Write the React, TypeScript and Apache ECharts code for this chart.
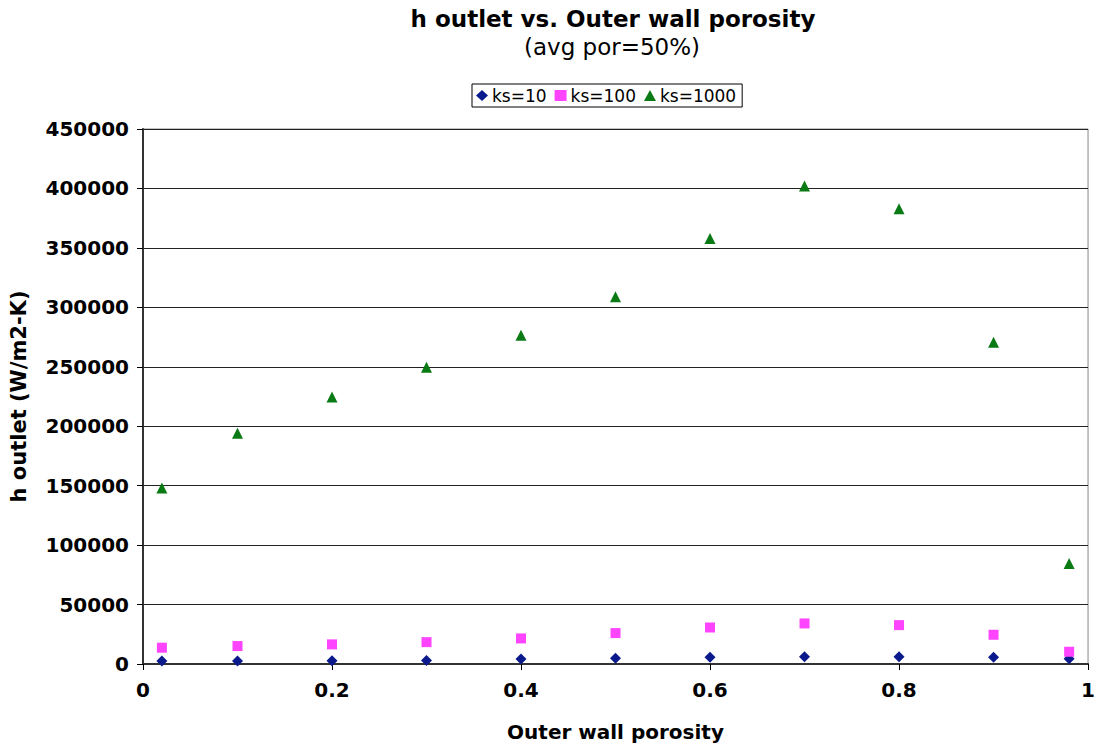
import React, { useEffect, useRef } from "react";
import * as echarts from "echarts";

const porosity = [0.02, 0.1, 0.2, 0.3, 0.4, 0.5, 0.6, 0.7, 0.8, 0.9, 0.98];
const ks10 = [2500, 2500, 2800, 3000, 4200, 4800, 5600, 6000, 6000, 5600, 4500];
const ks100 = [13700, 15100, 16500, 18400, 21500, 26000, 30700, 34100, 32700, 24600, 10300];
const ks1000 = [148000, 194000, 224500, 249700, 276500, 309000, 357800, 402000, 383000, 270600, 84600];

const seriesNames = ["ks=10", "ks=100", "ks=1000"];
const seriesColors = ["#0a1a8c", "#ff44ff", "#0a7a14"];
const seriesSymbols = ["diamond", "rect", "triangle"];
const seriesSizes = [11, 10, 11];

const FONT = "DejaVu Sans, Verdana, sans-serif";

export default function App() {
  const ref = useRef<HTMLDivElement>(null);
  useEffect(() => {
    if (!ref.current) return;
    const chart = echarts.init(ref.current, undefined, { renderer: "svg" });
    const datasets = [ks10, ks100, ks1000];
    chart.setOption({
      animation: false,
      backgroundColor: "#ffffff",
      textStyle: { fontFamily: FONT },
      graphic: [
        {
          type: "text",
          x: 613,
          y: 7,
          style: {
            text: "h outlet vs. Outer wall porosity",
            fontFamily: FONT,
            fontWeight: "bold",
            fontSize: 23,
            fill: "#000",
            textAlign: "center",
          },
        },
        {
          type: "text",
          x: 612,
          y: 35,
          style: {
            text: "(avg por=50%)",
            fontFamily: FONT,
            fontSize: 23,
            fill: "#000",
            textAlign: "center",
          },
        },
      ],
      legend: {
        data: seriesNames,
        left: 472,
        top: 84,
        orient: "horizontal",
        borderColor: "#000",
        borderWidth: 1,
        borderRadius: 0,
        padding: [3, 6, 3, 4],
        itemWidth: 12,
        itemHeight: 11,
        itemGap: 8,
        textStyle: { fontFamily: FONT, fontSize: 17, color: "#000", padding: [0, 0, 0, -1] },
      },
      grid: {
        left: 143,
        right: 8,
        top: 129,
        bottom: 78,
        show: true,
        borderColor: "#888",
        borderWidth: 1,
        containLabel: false,
      },
      xAxis: {
        type: "value",
        min: 0,
        max: 1,
        interval: 0.2,
        name: "Outer wall porosity",
        nameLocation: "middle",
        nameGap: 58,
        nameTextStyle: { fontFamily: FONT, fontWeight: "bold", fontSize: 20, color: "#000" },
        axisLine: { show: true, lineStyle: { color: "#333", width: 2 } },
        axisTick: { show: true, length: 6, lineStyle: { color: "#000" } },
        axisLabel: {
          fontFamily: FONT,
          fontWeight: "bold",
          fontSize: 20,
          color: "#000",
          margin: 16,
          formatter: (v: number) => String(Math.round(v * 10) / 10),
        },
        splitLine: { show: false },
      },
      yAxis: {
        type: "value",
        min: 0,
        max: 450000,
        interval: 50000,
        name: "h outlet (W/m2-K)",
        nameLocation: "middle",
        nameGap: 114,
        nameTextStyle: { fontFamily: FONT, fontWeight: "bold", fontSize: 21, color: "#000" },
        axisLine: { show: true, lineStyle: { color: "#333", width: 2 } },
        axisTick: { show: true, length: 6, lineStyle: { color: "#000" } },
        axisLabel: {
          fontFamily: FONT,
          fontWeight: "bold",
          fontSize: 20,
          color: "#000",
          margin: 14,
          formatter: (v: number) => String(v),
        },
        splitLine: { show: true, lineStyle: { color: "#222", width: 1 } },
      },
      series: seriesNames.map((name, i) => ({
        name,
        type: "scatter",
        symbol: seriesSymbols[i],
        symbolSize: seriesSizes[i],
        itemStyle: { color: seriesColors[i], opacity: 1 },
        data: porosity.map((x, j) => [x, datasets[i][j]]),
      })),
    });
    return () => chart.dispose();
  }, []);
  return (
    <div
      ref={ref}
      style={{ position: "fixed", left: 0, top: 0, width: 1098, height: 747 }}
    />
  );
}
